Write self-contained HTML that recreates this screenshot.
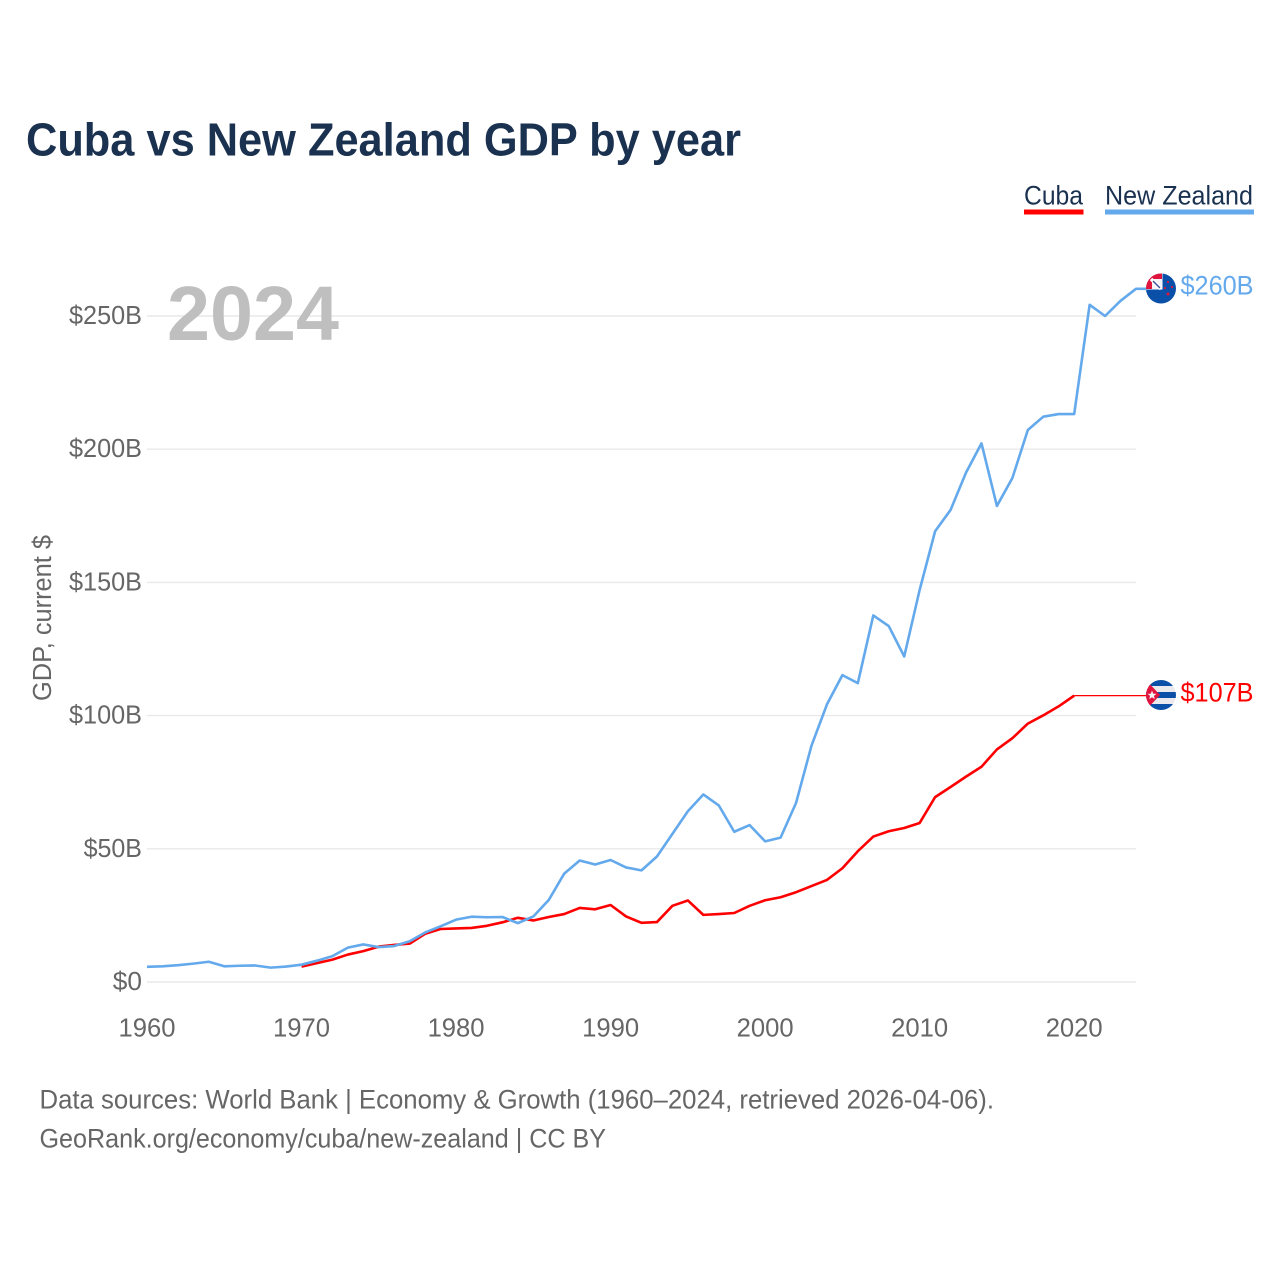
<!DOCTYPE html>
<html lang="en">
<head>
<meta charset="utf-8">
<title>Cuba vs New Zealand GDP by year</title>
<style>
html,body{margin:0;padding:0;background:#fff;}
svg{display:block;}
text{font-family:"Liberation Sans",sans-serif;}
</style>
</head>
<body>
<svg id="chart" xmlns="http://www.w3.org/2000/svg" width="1280" height="1280" viewBox="0 0 1280 1280">
  <rect x="0" y="0" width="1280" height="1280" fill="#fff"/>
  <text x="26" y="155.5" font-size="46" font-weight="700" fill="#1a3150" textLength="715" lengthAdjust="spacingAndGlyphs">Cuba vs New Zealand GDP by year</text>

  <text x="1024" y="204.5" font-size="26.5" fill="#1a3150" textLength="59" lengthAdjust="spacingAndGlyphs">Cuba</text>
  <rect x="1024" y="209.5" width="59.5" height="5" fill="#ff0000"/>
  <text x="1105" y="204.5" font-size="26.5" fill="#1a3150" textLength="148" lengthAdjust="spacingAndGlyphs">New Zealand</text>
  <rect x="1105" y="209.5" width="149" height="5" fill="#63a9ec"/>

  <g id="grid"></g>
  <g id="yticks"></g>
  <g id="xticks"></g>

  <text x="167" y="340" font-size="77" font-weight="700" fill="#bfbfbf" textLength="172" lengthAdjust="spacingAndGlyphs">2024</text>
  <text transform="translate(51,701) rotate(-90)" font-size="25.5" fill="#666" textLength="166" lengthAdjust="spacingAndGlyphs">GDP, current $</text>

  <g id="series"></g>

  <defs>
    <clipPath id="clip-nz"><circle cx="1161" cy="288.5" r="15"/></clipPath>
    <clipPath id="clip-cu"><circle cx="1161" cy="695" r="15"/></clipPath>
  </defs>

  <g>
    <g clip-path="url(#clip-nz)">
      <rect x="1146" y="273" width="31" height="31" fill="#0a50a8"/>
      <rect x="1146" y="273" width="16.5" height="16.5" fill="#fff"/>
      <rect x="1146" y="273" width="16" height="16" fill="#e0143c"/>
      <rect x="1152" y="279" width="10" height="10" fill="#f4f4f8"/>
      <path d="M1151 279 L1161 289" stroke="#fff" stroke-width="3.4" fill="none"/>
      <path d="M1153 281 L1160 288" stroke="#3a4f96" stroke-width="1.4" fill="none"/>
      <circle cx="1168" cy="282" r="1.1" fill="#e0143c"/>
      <circle cx="1172" cy="287" r="1.1" fill="#e0143c"/>
      <circle cx="1165" cy="288" r="1.1" fill="#e0143c"/>
      <circle cx="1168" cy="294" r="1.5" fill="#e0143c"/>
    </g>
  </g>
  <g clip-path="url(#clip-cu)">
    <rect x="1146" y="680" width="31" height="30" fill="#e9e9ee"/>
    <rect x="1146" y="680" width="31" height="6" fill="#0a50a8"/>
    <rect x="1146" y="692" width="31" height="6" fill="#0a50a8"/>
    <rect x="1146" y="704" width="31" height="6" fill="#0a50a8"/>
    <path d="M1146 680 L1160 695 L1146 710 Z" fill="#e0143c"/>
    <path d="M1152 690.5 L1153.2 693.7 L1156.5 693.8 L1153.9 695.9 L1154.8 699.1 L1152 697.2 L1149.2 699.1 L1150.1 695.9 L1147.5 693.8 L1150.8 693.7 Z" fill="#f4f4f4"/>
  </g>

  <text x="1180.5" y="294.5" font-size="26.5" fill="#63a9ec" textLength="73" lengthAdjust="spacingAndGlyphs">$260B</text>
  <text x="1180.5" y="701.5" font-size="26.5" fill="#ff0000" textLength="73" lengthAdjust="spacingAndGlyphs">$107B</text>

  <text x="39.5" y="1108.5" font-size="26.5" fill="#666" textLength="954.5" lengthAdjust="spacingAndGlyphs">Data sources: World Bank | Economy &amp; Growth (1960–2024, retrieved 2026-04-06).</text>
  <a><text x="39.5" y="1147.5" font-size="26.5" fill="#666" textLength="566.5" lengthAdjust="spacingAndGlyphs">GeoRank.org/economy/cuba/new-zealand | CC BY</text></a>
</svg>

<script>
const nzYears = [1960,1961,1962,1963,1964,1965,1966,1967,1968,1969,1970,1971,1972,1973,1974,1975,1976,1977,1978,1979,1980,1981,1982,1983,1984,1985,1986,1987,1988,1989,1990,1991,1992,1993,1994,1995,1996,1997,1998,1999,2000,2001,2002,2003,2004,2005,2006,2007,2008,2009,2010,2011,2012,2013,2014,2015,2016,2017,2018,2019,2020,2021,2022,2023,2024,2024.7];
const nzValues = [5.7,5.9,6.3,6.9,7.6,5.9,6.1,6.2,5.4,5.8,6.5,8.0,9.7,12.9,14.1,13.1,13.5,15.3,18.6,20.9,23.4,24.5,24.3,24.4,22.1,24.6,30.8,40.7,45.6,44.1,45.8,43,41.9,47.1,55.6,64.1,70.4,66.3,56.4,58.9,52.8,54.2,67.2,88.7,104.2,115.2,112.2,137.6,133.6,122.2,147.2,169.2,177.2,191.2,202.2,178.7,189.2,207.2,212.2,213.2,213.2,254.2,250,255.7,260.2,260.2];
const cubaYears = [1970,1971,1972,1973,1974,1975,1976,1977,1978,1979,1980,1981,1982,1983,1984,1985,1986,1987,1988,1989,1990,1991,1992,1993,1994,1995,1996,1997,1998,1999,2000,2001,2002,2003,2004,2005,2006,2007,2008,2009,2010,2011,2012,2013,2014,2015,2016,2017,2018,2019,2020];
const cubaValues = [5.8,7.1,8.4,10.3,11.6,13.3,13.9,14.4,18.1,19.9,20.1,20.3,21.1,22.4,24.1,23.1,24.4,25.5,27.8,27.3,28.9,24.6,22.2,22.5,28.6,30.6,25.2,25.5,25.9,28.6,30.7,31.8,33.7,36,38.3,42.7,49.1,54.6,56.6,57.8,59.7,69.4,73.2,77.1,80.8,87.3,91.5,97,100.1,103.5,107.5];
const cubaEstimateYears = [2020,2024.7];
const cubaEstimateValues = [107.5,107.5];
const yTickValues = [0,50,100,150,200,250];
const yTickLabels = ["$0","$50B","$100B","$150B","$200B","$250B"];
const xTickValues = [1960,1970,1980,1990,2000,2010,2020];

const NS = "http://www.w3.org/2000/svg";
function xScale(year){ return 147 + (year - 1960) * (1136 - 147) / 64; }
function yScale(v){ return 982 - v * (982 - 316) / 250; }
function make(tag, attrs){
  const el = document.createElementNS(NS, tag);
  for (const k in attrs) el.setAttribute(k, attrs[k]);
  return el;
}
const gridG = document.getElementById("grid");
const yG = document.getElementById("yticks");
const xG = document.getElementById("xticks");
const seriesG = document.getElementById("series");

yTickValues.forEach(function(v, i){
  const line = make("line", {x1:147, x2:1136, y1:yScale(v), y2:yScale(v), stroke:"#e9e9e9", "stroke-width":1.4});
  
  
  gridG.appendChild(line);
  const label = yTickLabels[i];
  const t = make("text", {x:142, y:yScale(v)+8, "text-anchor":"end", "font-size":25.5, fill:"#666", textLength:label.length*14.6, lengthAdjust:"spacingAndGlyphs"});
  
  
  t.textContent = label;
  yG.appendChild(t);
});

xTickValues.forEach(function(year){
  const t = make("text", {x:xScale(year), y:1036.5, "text-anchor":"middle", "font-size":25.5, fill:"#666", textLength:57, lengthAdjust:"spacingAndGlyphs"});
  
  
  t.textContent = String(year);
  xG.appendChild(t);
});

function linePath(xs, ys){
  return xs.map(function(x, i){
    return (i ? "L" : "M") + xScale(x).toFixed(2) + " " + yScale(ys[i]).toFixed(2);
  }).join(" ");
}

const cubaEst = make("path", {d:linePath(cubaEstimateYears, cubaEstimateValues), fill:"none", stroke:"#ff0000", "stroke-width":1.2});


seriesG.appendChild(cubaEst);

const cubaLine = make("path", {d:linePath(cubaYears, cubaValues), fill:"none", stroke:"#ff0000", "stroke-width":2.6, "stroke-linejoin":"round"});


seriesG.appendChild(cubaLine);

const nzLine = make("path", {d:linePath(nzYears, nzValues), fill:"none", stroke:"#63a9ec", "stroke-width":2.6, "stroke-linejoin":"round"});


seriesG.appendChild(nzLine);
</script>
</body>
</html>
